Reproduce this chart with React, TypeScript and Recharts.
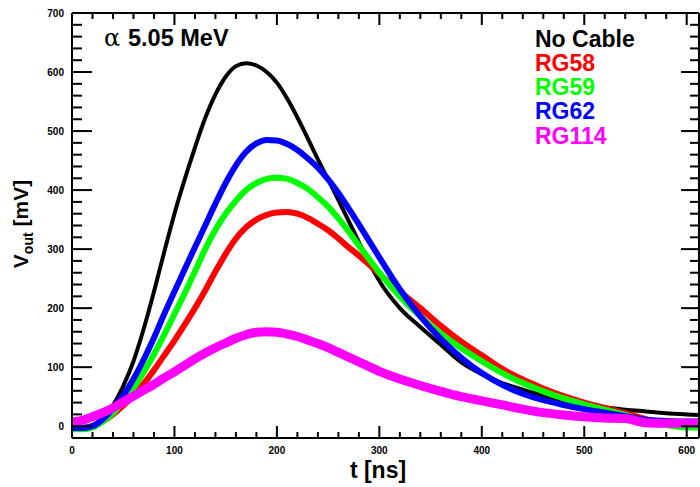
import React from 'react';
import { LineChart, Line, XAxis, YAxis } from 'recharts';

// sample times in ns
const times = [0, 10, 20, 30, 40, 50, 60, 70, 80, 90, 100, 110, 120, 130, 140, 150, 160, 170, 180, 190, 200, 210, 220, 230, 240, 250, 260, 270, 280, 290, 300, 320, 340, 360, 380, 400, 420, 440, 460, 480, 500, 520, 540, 560, 580, 600, 612];

// output voltage in mV
const noCable = [-5, -6, -2, 10, 35, 68, 110, 165, 228, 295, 360, 418, 472, 522, 562, 592, 610, 615, 611, 600, 582, 555, 523, 488, 452, 418, 383, 348, 312, 277, 246, 200, 168, 138, 108, 88, 73, 62, 52, 44, 37, 32, 28, 25, 22, 20, 19];
const rg58 = [-3, -3, 0, 8, 20, 35, 52, 72, 95, 120, 145, 172, 200, 230, 262, 292, 318, 337, 350, 358, 362, 363, 360, 353, 343, 332, 318, 303, 289, 274, 258, 228, 200, 170, 143, 120, 97, 79, 64, 51, 40, 31, 22, 12, 5, 2, 1];
const rg59 = [-5, -5, -2, 8, 22, 42, 65, 92, 122, 155, 190, 225, 262, 300, 333, 360, 382, 400, 412, 419, 421, 419, 412, 402, 388, 372, 352, 330, 306, 283, 260, 220, 186, 157, 132, 110, 90, 73, 59, 47, 37, 28, 19, 8, 2, -2, -2];
const rg62 = [-3, -3, 0, 12, 30, 52, 80, 113, 150, 190, 228, 266, 303, 340, 377, 412, 442, 465, 479, 485, 484, 478, 468, 454, 438, 418, 395, 369, 342, 314, 286, 232, 186, 148, 116, 90, 70, 55, 44, 36, 29, 23, 17, 11, 9, 8, 8];
const rg114 = [7, 10, 16, 23, 31, 41, 51, 61, 71, 82, 92, 103, 114, 124, 133, 141, 149, 155, 159, 160, 159, 156, 152, 146, 140, 133, 125, 117, 109, 101, 93, 80, 69, 59, 50, 43, 36, 29, 23, 19, 16, 14, 13, 6, 5, 5, 5];

const xTicks = [0, 20, 40, 60, 80, 100, 120, 140, 160, 180, 200, 220, 240, 260, 280, 300, 320, 340, 360, 380, 400, 420, 440, 460, 480, 500, 520, 540, 560, 580, 600];
const yTicks = [0, 20, 40, 60, 80, 100, 120, 140, 160, 180, 200, 220, 240, 260, 280, 300, 320, 340, 360, 380, 400, 420, 440, 460, 480, 500, 520, 540, 560, 580, 600, 620, 640, 660, 680, 700];

const legendNames = ['No Cable', 'RG58', 'RG59', 'RG62', 'RG114'];
const legendColors = ['#000000', '#ff0000', '#00ff00', '#0000ff', '#ff00ff'];

const xDomain: [number, number] = [0, 612];
const yDomain: [number, number] = [-20, 700];

const data = times.map((t, i) => ({
  t,
  noCable: noCable[i],
  rg58: rg58[i],
  rg59: rg59[i],
  rg62: rg62[i],
  rg114: rg114[i],
}));

const font = '"Liberation Sans", Arial, Helvetica, sans-serif';
const frameStyle = { stroke: '#000', strokeWidth: 2 };

const isMajor = (v: number) => v % 100 === 0;

// ROOT-style frame: ticks point inwards, majors every 100, minors every 20
const renderBottomTick = (props: any) => {
  const { x, y, payload } = props;
  const len = isMajor(payload.value) ? 12 : 6;
  return (
    <g key={`b-${payload.value}`}>
      <path d={`M${x},${y}L${x},${y - len}`} stroke="#000" strokeWidth={2} fill="none" />
      {isMajor(payload.value) && (
        <text x={x} y={y + 16} textAnchor="middle" fontFamily={font} fontWeight="bold" fontSize={10} fill="#000" stroke="none">
          {payload.value}
        </text>
      )}
    </g>
  );
};

const renderTopTick = (props: any) => {
  const { x, y, payload } = props;
  const len = isMajor(payload.value) ? 12 : 6;
  return <path key={`t-${payload.value}`} d={`M${x},${y}L${x},${y + len}`} stroke="#000" strokeWidth={2} fill="none" />;
};

const renderLeftTick = (props: any) => {
  const { x, y, payload } = props;
  const len = isMajor(payload.value) ? 20 : 10;
  return (
    <g key={`l-${payload.value}`}>
      <path d={`M${x},${y}L${x + len},${y}`} stroke="#000" strokeWidth={2} fill="none" />
      {isMajor(payload.value) && (
        <text x={x - 8} y={y + 3.5} textAnchor="end" fontFamily={font} fontWeight="bold" fontSize={10} fill="#000" stroke="none">
          {payload.value}
        </text>
      )}
    </g>
  );
};

const renderRightTick = (props: any) => {
  const { x, y, payload } = props;
  const len = isMajor(payload.value) ? 18 : 9;
  return <path key={`r-${payload.value}`} d={`M${x},${y}L${x - len},${y}`} stroke="#000" strokeWidth={2} fill="none" />;
};

export default function App() {
  return (
    <div style={{ position: 'absolute', left: 0, top: 0, width: 700, height: 487, background: '#fff' }}>
      <LineChart width={700} height={487} data={data} margin={{ top: 12, right: 0, bottom: 0, left: 0 }}>
        <XAxis
          dataKey="t"
          type="number"
          domain={xDomain}
          ticks={xTicks}
          interval={0}
          height={49}
          tickSize={0}
          tickMargin={0}
          tickLine={false}
          tick={renderBottomTick}
          axisLine={frameStyle}
          allowDataOverflow
        />
        <XAxis
          xAxisId="top"
          orientation="top"
          dataKey="t"
          type="number"
          domain={xDomain}
          ticks={xTicks}
          interval={0}
          height={1}
          tickSize={0}
          tickMargin={0}
          tickLine={false}
          tick={renderTopTick}
          axisLine={frameStyle}
          allowDataOverflow
        />
        <YAxis
          type="number"
          domain={yDomain}
          ticks={yTicks}
          interval={0}
          width={72}
          tickSize={0}
          tickMargin={0}
          tickLine={false}
          tick={renderLeftTick}
          axisLine={frameStyle}
          allowDataOverflow
        />
        <YAxis
          yAxisId="right"
          orientation="right"
          type="number"
          domain={yDomain}
          ticks={yTicks}
          interval={0}
          width={1}
          tickSize={0}
          tickMargin={0}
          tickLine={false}
          tick={renderRightTick}
          axisLine={frameStyle}
          allowDataOverflow
        />
        <Line type="monotone" dataKey="noCable" stroke="#000000" strokeWidth={4} dot={false} isAnimationActive={false} />
        <Line type="monotone" dataKey="rg58" stroke="#ff0000" strokeWidth={6} dot={false} isAnimationActive={false} />
        <Line type="monotone" dataKey="rg59" stroke="#00ff00" strokeWidth={6} dot={false} isAnimationActive={false} />
        <Line type="monotone" dataKey="rg62" stroke="#0000ff" strokeWidth={6} dot={false} isAnimationActive={false} />
        <Line type="monotone" dataKey="rg114" stroke="#ff00ff" strokeWidth={9} dot={false} isAnimationActive={false} />
      </LineChart>
      <svg width={700} height={487} style={{ position: 'absolute', left: 0, top: 0, pointerEvents: 'none' }}>
        <text x={104} y={46} fontFamily='"DejaVu Serif", serif' fontSize={24} fill="#000">α</text>
        <text x={128} y={46} fontFamily={font} fontWeight="bold" fontSize={23.5} fill="#000">5.05 MeV</text>
        {legendNames.map((name, i) => (
          <text key={name} x={535} y={46.5 + i * 24.3} fontFamily={font} fontWeight="bold" fontSize={23} fill={legendColors[i]}>
            {name}
          </text>
        ))}
        <text x={378} y={478} textAnchor="middle" fontFamily={font} fontWeight="bold" fontSize={23} fill="#000">t [ns]</text>
        <text
          transform="translate(28,224) rotate(-90)"
          textAnchor="middle"
          fontFamily={font}
          fontWeight="bold"
          fontSize={21}
          fill="#000"
        >
          V<tspan fontSize={14} dy={5}>out</tspan>
          <tspan dy={-5}> [mV]</tspan>
        </text>
      </svg>
    </div>
  );
}
